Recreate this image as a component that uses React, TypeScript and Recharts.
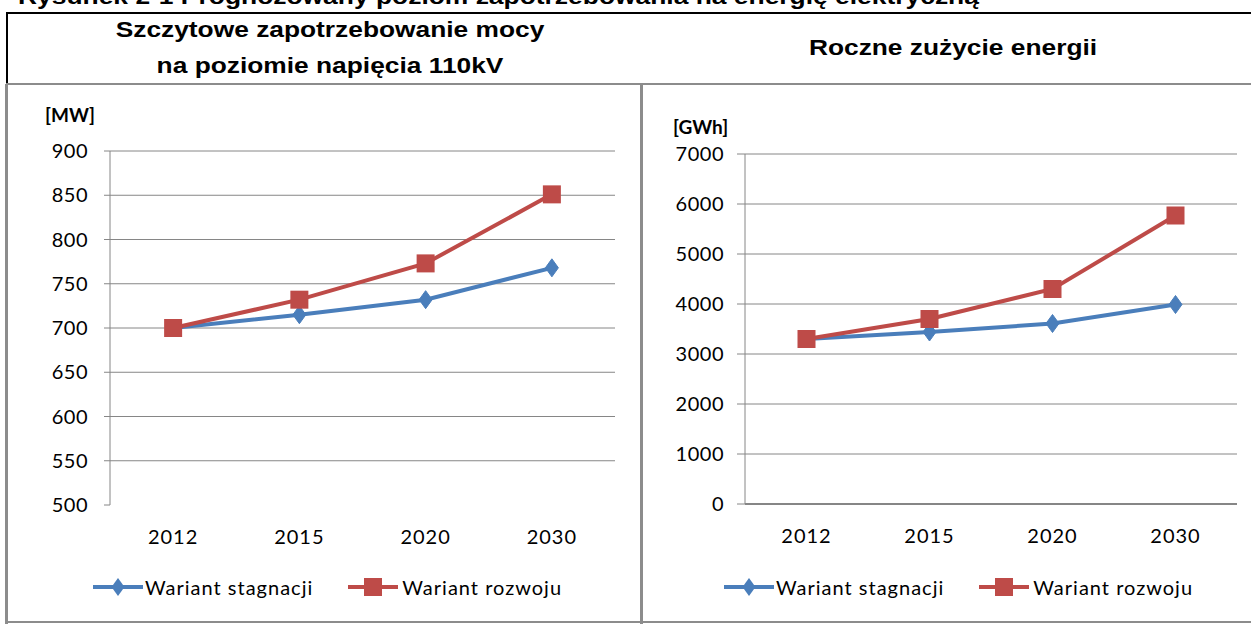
import React from "react";
import { CartesianGrid, Legend, Line, LineChart, XAxis, YAxis } from "recharts";

// dane
const years = ["2012", "2015", "2020", "2030"];
const peakStagnation = [700, 715, 732, 768];
const peakGrowth = [700, 732, 773, 851];
const energyStagnation = [3300, 3440, 3610, 3990];
const energyGrowth = [3300, 3700, 4300, 5770];
const peakTicks = [500, 550, 600, 650, 700, 750, 800, 850, 900];
const energyTicks = [0, 1000, 2000, 3000, 4000, 5000, 6000, 7000];
const boundaryTicks = [0, 1, 2, 3, 4];
const seriesNames = ["Wariant stagnacji", "Wariant rozwoju"];

const BLUE = "#4a7ebb";
const RED = "#be4b48";
const GRID = "#868686";
const FONT = "Lato, 'Open Sans', sans-serif";
const ARIAL = "'Liberation Sans', Arial, sans-serif";

function buildRows(stagnation: number[], growth: number[]) {
  return years.map((year, i) => ({ year, pos: i + 0.5, stagnation: stagnation[i], growth: growth[i] }));
}

function DiamondDot(props: any) {
  const { cx, cy, index } = props;
  if (cx == null || cy == null) return null;
  return (
    <polygon
      key={`d-${index}`}
      points={`${cx},${cy - 9} ${cx + 6.5},${cy} ${cx},${cy + 9} ${cx - 6.5},${cy}`}
      fill={BLUE}
      stroke={BLUE}
    />
  );
}

function SquareDot(props: any) {
  const { cx, cy, index } = props;
  if (cx == null || cy == null) return null;
  return <rect key={`s-${index}`} x={cx - 9} y={cy - 9} width={18} height={18} fill={RED} />;
}

// legenda w stylu Excela: linia z markerem w środku
function LegendRow({ offset, gap }: { offset: number; gap: number }) {
  return (
    <div
      style={{
        display: "flex",
        alignItems: "center",
        height: 30,
        paddingLeft: offset,
        fontFamily: FONT,
        fontSize: 20,
        letterSpacing: 1,
        color: "#000",
      }}
    >
      <svg width={50} height={20}>
        <line x1={0} y1={10} x2={50} y2={10} stroke={BLUE} strokeWidth={4} />
        <polygon points="25,1 31.5,10 25,19 18.5,10" fill={BLUE} />
      </svg>
      <span style={{ marginLeft: 2 }}>{seriesNames[0]}</span>
      <svg width={50} height={20} style={{ marginLeft: gap }}>
        <line x1={0} y1={10} x2={50} y2={10} stroke={RED} strokeWidth={4} />
        <rect x={16} y={1} width={18} height={18} fill={RED} />
      </svg>
      <span style={{ marginLeft: 4 }}>{seriesNames[1]}</span>
    </div>
  );
}

type PanelProps = {
  left: number;
  width: number;
  rows: ReturnType<typeof buildRows>;
  ticks: number[];
  marginTop: number;
  marginRight: number;
  yWidth: number;
  yTickSize: number;
  yTickMargin: number;
  labelHeight: number;
  showBaseLine: boolean;
  legendOffset: number;
  legendGap: number;
};

function Panel(p: PanelProps) {
  const lo = p.ticks[0];
  const hi = p.ticks[p.ticks.length - 1];
  return (
    <div style={{ position: "absolute", left: p.left, top: 86 }}>
      <LineChart width={p.width} height={535} data={p.rows} margin={{ top: p.marginTop, right: p.marginRight, left: 0, bottom: 19 }}>
        <CartesianGrid
          vertical={false}
          stroke={GRID}
          xAxisId="bounds"
          horizontalValues={p.showBaseLine ? p.ticks : p.ticks.slice(1)}
        />
        <XAxis
          xAxisId="bounds"
          type="number"
          dataKey="pos"
          domain={[0, 4]}
          ticks={boundaryTicks}
          allowDataOverflow
          height={1}
          tickSize={9}
          tick={false}
          tickLine={{ stroke: GRID }}
          axisLine={p.showBaseLine ? { stroke: GRID, strokeWidth: 2 } : false}
        />
        <XAxis
          xAxisId="labels"
          dataKey="year"
          type="category"
          scale="band"
          height={p.labelHeight}
          tickLine={false}
          axisLine={false}
          tickMargin={18}
          tick={{ fill: "#000", fontSize: 20, fontFamily: FONT, letterSpacing: 1 }}
        />
        <YAxis
          type="number"
          domain={[lo, hi]}
          ticks={p.ticks}
          interval={0}
          width={p.yWidth}
          tickSize={p.yTickSize}
          tickMargin={p.yTickMargin}
          axisLine={{ stroke: GRID }}
          tickLine={{ stroke: GRID }}
          tick={{ fill: "#000", fontSize: 20, fontFamily: FONT, letterSpacing: 0.5 }}
        />
        <Legend verticalAlign="bottom" content={() => <LegendRow offset={p.legendOffset} gap={p.legendGap} />} />
        <Line
          xAxisId="bounds"
          dataKey="stagnation"
          name={seriesNames[0]}
          type="linear"
          stroke={BLUE}
          strokeWidth={4}
          dot={DiamondDot}
          isAnimationActive={false}
        />
        <Line
          xAxisId="bounds"
          dataKey="growth"
          name={seriesNames[1]}
          type="linear"
          stroke={RED}
          strokeWidth={4}
          dot={SquareDot}
          isAnimationActive={false}
        />
      </LineChart>
    </div>
  );
}

const stretched = (left: number, top: number): React.CSSProperties => ({
  position: "absolute",
  left,
  top,
  transform: "translateX(-50%) scaleX(1.17)",
  whiteSpace: "nowrap",
  fontFamily: ARIAL,
  fontWeight: 700,
  fontSize: 22.5,
  lineHeight: "22px",
  color: "#000",
});

export default function App() {
  return (
    <div style={{ position: "absolute", left: 0, top: 0, width: 1251, height: 624, background: "#fff", overflow: "hidden" }}>
      <div style={{ ...stretched(18, -14), transform: "scaleX(1.2)", transformOrigin: "left top", fontSize: 22 }}>
        Rysunek 2-1 Prognozowany poziom zapotrzebowania na energię elektryczną
      </div>

      {/* ramka tabeli */}
      <div style={{ position: "absolute", left: 6, top: 12, width: 1245, height: 2, background: "#000" }} />
      <div style={{ position: "absolute", left: 6, top: 12, width: 2, height: 73, background: "#000" }} />
      <div style={{ position: "absolute", left: 6, top: 83, width: 1245, height: 2, background: "#8c8c8c" }} />
      <div style={{ position: "absolute", left: 5, top: 84, width: 3, height: 540, background: "#8c8c8c" }} />
      <div style={{ position: "absolute", left: 640, top: 84, width: 3, height: 540, background: "#8c8c8c" }} />
      <div style={{ position: "absolute", left: 5, top: 621, width: 1246, height: 2, background: "#8c8c8c" }} />

      <div style={stretched(330, 19)}>Szczytowe zapotrzebowanie mocy</div>
      <div style={stretched(330, 55)}>na poziomie napięcia 110kV</div>
      <div style={stretched(953, 37)}>Roczne zużycie energii</div>

      <div style={{ position: "absolute", left: 45, top: 103, fontFamily: FONT, fontWeight: 700, fontSize: 19, color: "#000" }}>[MW]</div>
      <div style={{ position: "absolute", left: 673, top: 115, fontFamily: FONT, fontWeight: 700, fontSize: 19, color: "#000" }}>[GWh]</div>

      <Panel
        left={8}
        width={632}
        rows={buildRows(peakStagnation, peakGrowth)}
        ticks={peakTicks}
        marginTop={65}
        marginRight={25}
        yWidth={102}
        yTickSize={6}
        yTickMargin={16}
        labelHeight={66}
        showBaseLine={false}
        legendOffset={85}
        legendGap={35}
      />
      <Panel
        left={643}
        width={607}
        rows={buildRows(energyStagnation, energyGrowth)}
        ticks={energyTicks}
        marginTop={68}
        marginRight={13}
        yWidth={102}
        yTickSize={8}
        yTickMargin={13}
        labelHeight={67}
        showBaseLine={true}
        legendOffset={81}
        legendGap={35}
      />
    </div>
  );
}
